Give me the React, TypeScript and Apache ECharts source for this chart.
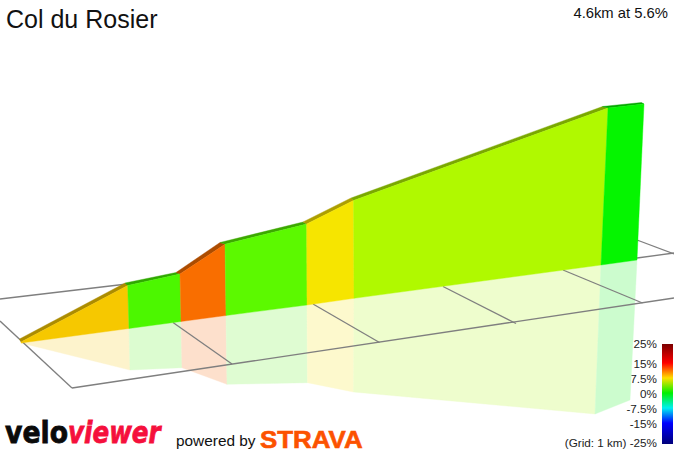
import React, { useEffect, useRef } from "react";
import * as echarts from "echarts";

const TITLE = "Col du Rosier";
const SUMMARY = "4.6km at 5.6%";

// Projected profile (x to the right, y downwards)
const baseX = [21, 129, 181, 226, 307, 354, 601, 637];
const baseY = [343, 328.5, 321.5, 315.5, 305, 298.3, 265, 260];
const wallX = [21, 127.7, 180, 225, 306.7, 353.5, 608, 644];
const wallY = [342, 285.5, 274, 244.3, 224, 200.5, 108, 104];
const ridgeX = [19.5, 125, 176, 220, 303, 351, 602.5, 641.5];
const ridgeY = [339, 283, 272.5, 242.5, 222, 198, 106.5, 102.5];
const shadowX = [21, 130, 182, 227, 307.5, 353.5, 595, 630];
const shadowY = [343, 370, 367.7, 384.3, 382.7, 392, 414, 400];

// One entry per climb segment
const wallColors = ["#f6c800", "#4cf700", "#f96e00", "#5cf900", "#f6e500", "#b0f900", "#05f500"];
const ridgeColors = ["#ac8c00", "#2fa800", "#ac4c00", "#3ca800", "#ad9f00", "#7aa800", "#04a800"];
const shadowColors = ["#fdf3cc", "#dcfcd0", "#fde0cc", "#dffcd2", "#fdf9cd", "#eefdcd", "#ccfcce"];

// Grid lines: x1, y1, x2, y2
const gridLineRows = [
  [0, 299, 127, 284],
  [72, 388, 674, 298],
  [637, 240, 674, 254],
  [637, 258, 674, 253],
  [0, 321, 72, 388],
  [173, 322.5, 232, 364],
  [313, 304, 379.5, 342.5],
  [443, 286.5, 516, 323.5],
  [563, 270, 642.5, 303],
];

const legendLabels = ["25%", "15%", "7.5%", "0%", "-7.5%", "-15%", "(Grid: 1 km) -25%"];
const legendLabelY = [343, 363, 378, 393, 408, 423, 442];
const legendStops = [0, 0.19, 0.34, 0.49, 0.64, 0.79, 1];
const legendColors = ["#7a0000", "#ff0000", "#ffe000", "#00f000", "#00f0f0", "#0000ff", "#00007a"];

const segmentIndex = wallColors.map((_, i) => i);

function quadSeries(
  name: string,
  topX: number[],
  topY: number[],
  botX: number[],
  botY: number[],
  colors: string[],
) {
  return {
    type: "custom",
    name,
    silent: true,
    coordinateSystem: "cartesian2d",
    data: segmentIndex,
    encode: { x: 0, y: 0 },
    clip: false,
    renderItem: (params: any, api: any) => {
      const i = params.dataIndex;
      const points = [
        api.coord([topX[i], topY[i]]),
        api.coord([topX[i + 1], topY[i + 1]]),
        api.coord([botX[i + 1], botY[i + 1]]),
        api.coord([botX[i], botY[i]]),
      ];
      return {
        type: "polygon",
        shape: { points },
        style: { fill: colors[i], stroke: colors[i], lineWidth: 0.4 },
      };
    },
  };
}

export default function App() {
  const ref = useRef<HTMLDivElement>(null);
  useEffect(() => {
    const chart = echarts.init(ref.current!, undefined, { renderer: "svg" });
    chart.setOption({
      animation: false,
      backgroundColor: "#ffffff",
      grid: { left: 0, right: 0, top: 0, bottom: 0 },
      xAxis: { type: "value", min: 0, max: 674, show: false },
      yAxis: { type: "value", min: 0, max: 451, inverse: true, show: false },
      series: [
        quadSeries("shadow", baseX, baseY, shadowX, shadowY, shadowColors),
        {
          type: "custom",
          name: "grid",
          silent: true,
          coordinateSystem: "cartesian2d",
          data: gridLineRows,
          encode: { x: [0, 2], y: [1, 3] },
          clip: false,
          renderItem: (_p: any, api: any) => {
            const a = api.coord([api.value(0), api.value(1)]);
            const b = api.coord([api.value(2), api.value(3)]);
            return {
              type: "line",
              shape: { x1: a[0], y1: a[1], x2: b[0], y2: b[1] },
              style: { stroke: "#7f7f7f", lineWidth: 1.3 },
            };
          },
        },
        quadSeries("ridge", ridgeX, ridgeY, wallX, wallY, ridgeColors),
        quadSeries("wall", wallX, wallY, baseX, baseY, wallColors),
      ],
      graphic: [
        {
          type: "text",
          x: 6,
          y: 6,
          style: { text: TITLE, font: '25px "Liberation Sans"', fill: "#111" },
        },
        {
          type: "text",
          x: 668,
          y: 5,
          style: { text: SUMMARY, font: '14.8px "Liberation Sans"', fill: "#111", textAlign: "right" },
        },
        {
          type: "rect",
          shape: { x: 662, y: 344, width: 11, height: 100 },
          style: {
            fill: new echarts.graphic.LinearGradient(
              0, 0, 0, 1,
              legendStops.map((offset, i) => ({ offset, color: legendColors[i] })),
            ),
          },
        },
        ...legendLabels.map((text, i) => ({
          type: "text",
          x: 657,
          y: legendLabelY[i],
          style: { text, font: '11.7px "Liberation Sans"', fill: "#222", textAlign: "right", textVerticalAlign: "middle" },
        })),
        {
          type: "text",
          x: 5,
          y: 417.5,
          scaleX: 0.89,
          style: { text: "velo", font: 'bold 30px "DejaVu Sans"', fill: "#0a0a0a", stroke: "#0a0a0a", lineWidth: 0.8 },
        },
        {
          type: "text",
          x: 68,
          y: 417.5,
          scaleX: 0.82,
          style: { text: "viewer", font: 'italic bold 30px "DejaVu Sans"', fill: "#f5103c", stroke: "#f5103c", lineWidth: 0.8 },
        },
        {
          type: "text",
          x: 176,
          y: 433,
          style: { text: "powered by", font: '15.4px "Liberation Sans"', fill: "#111" },
        },
        {
          type: "text",
          x: 260,
          y: 427,
          scaleX: 1.08,
          style: { text: "STRAVA", font: 'bold 24px "Liberation Sans"', fill: "#fc5200", stroke: "#fc5200", lineWidth: 0.6 },
        },
      ],
    });
    return () => chart.dispose();
  }, []);
  return (
    <div
      ref={ref}
      style={{ position: "fixed", left: 0, top: 0, width: 674, height: 451 }}
    />
  );
}
